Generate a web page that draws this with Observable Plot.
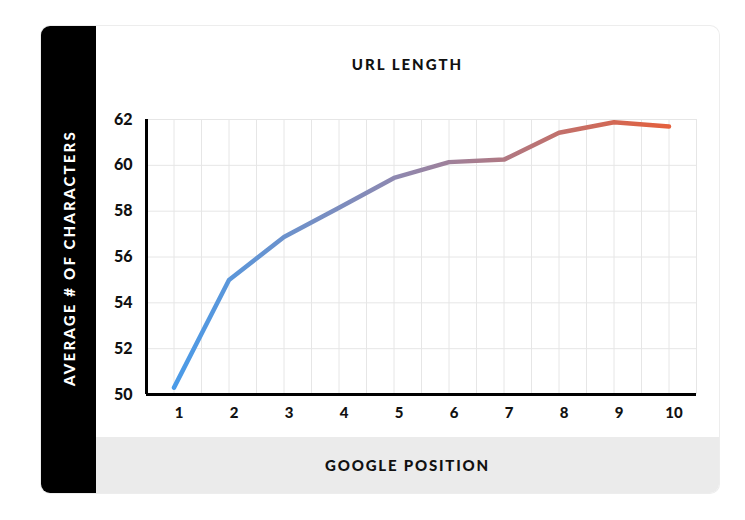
<!DOCTYPE html>
<html>
<head>
<meta charset="utf-8">
<script src="https://cdn.jsdelivr.net/npm/d3@7"></script>
<script src="https://cdn.jsdelivr.net/npm/@observablehq/plot@0.6"></script>
<style>
  html, body { margin: 0; padding: 0; background: #fff; width: 745px; height: 520px; overflow: hidden; }
  #card { position: absolute; left: 41px; top: 26px; width: 678px; height: 467px; border-radius: 9px; overflow: hidden; background: #fff; box-shadow: 0 0 0 1px #ededed; }
  #side { position: absolute; left: 0; top: 0; width: 55px; height: 467px; background: #000; }
  #ylabel { position: absolute; left: 28px; top: 232px; transform: translate(-50%, -50%) rotate(-90deg); white-space: nowrap; color: #fff; font: 900 15px Lato, sans-serif; letter-spacing: 2.2px; }
  #title { position: absolute; left: 55px; width: 623px; top: 29px; text-align: center; font: 900 15px Lato, sans-serif; letter-spacing: 2px; color: #111; }
  #footer { position: absolute; left: 55px; top: 411px; width: 623px; height: 56px; background: #ebebeb; }
  #xlabel { position: absolute; left: 0; width: 623px; top: 19px; text-align: center; font: 900 15px Lato, sans-serif; letter-spacing: 1.8px; color: #111; }
  #chart { position: absolute; left: 55px; top: 64px; }
</style>
</head>
<body>
<div id="card">
  <div id="side"><div id="ylabel">AVERAGE # OF CHARACTERS</div></div>
  <div id="title">URL LENGTH</div>
  <div id="chart"></div>
  <div id="footer"><div id="xlabel">GOOGLE POSITION</div></div>
</div>
<script>
const positions = [1, 2, 3, 4, 5, 6, 7, 8, 9, 10];
const avgChars = [50.3, 55.0, 56.87, 58.15, 59.45, 60.14, 60.25, 61.42, 61.88, 61.69];
const xTicks = [1, 2, 3, 4, 5, 6, 7, 8, 9, 10];
const yTicks = [50, 52, 54, 56, 58, 60, 62];
const xGrid = [1, 1.5, 2, 2.5, 3, 3.5, 4, 4.5, 5, 5.5, 6, 6.5, 7, 7.5, 8, 8.5, 9, 9.5, 10, 10.5];
const yGrid = [52, 54, 56, 58, 60, 62];

const data = positions.map((p, i) => ({position: p, value: avgChars[i]}));

const gradientDefs = () => {
  const ns = "http://www.w3.org/2000/svg";
  const defs = document.createElementNS(ns, "defs");
  const lg = document.createElementNS(ns, "linearGradient");
  lg.setAttribute("id", "lineGrad");
  lg.setAttribute("x1", "0"); lg.setAttribute("x2", "1");
  lg.setAttribute("y1", "0"); lg.setAttribute("y2", "0");
  [["0", "#4a9be8"], ["0.45", "#8e88b0"], ["1", "#e4603d"]].forEach(([o, c]) => {
    const s = document.createElementNS(ns, "stop");
    s.setAttribute("offset", o);
    s.setAttribute("stop-color", c);
    lg.appendChild(s);
  });
  defs.appendChild(lg);
  return defs;
};

const chart = Plot.plot({
  width: 623,
  height: 347,
  marginLeft: 50,
  marginRight: 23,
  marginTop: 29,
  marginBottom: 43,
  style: {fontFamily: "Lato, sans-serif", fontSize: "15px", fontWeight: 900, color: "#111", background: "transparent"},
  x: {domain: [0.5, 10.5]},
  y: {domain: [50, 62]},
  marks: [
    gradientDefs,
    Plot.ruleX(xGrid, {stroke: "#e6e6e6", strokeWidth: 1, y1: 50, y2: 62}),
    Plot.ruleY(yGrid, {stroke: "#e6e6e6", strokeWidth: 1, x1: 0.5, x2: 10.5}),
    Plot.axisX(xTicks, {tickSize: 0, tickPadding: 13, label: null, tickFormat: d => String(d), dx: 5}),
    Plot.axisY(yTicks, {tickSize: 0, tickPadding: 14, label: null, tickFormat: d => String(d), fontSize: 16}),
    Plot.ruleX([0.5], {y1: 50, y2: 62, stroke: "#000", strokeWidth: 3}),
    Plot.ruleY([50], {x1: 0.5, x2: 10.5, stroke: "#000", strokeWidth: 3}),
    Plot.line(data, {x: "position", y: "value", stroke: "url(#lineGrad)", strokeWidth: 4.5, strokeLinejoin: "round", strokeLinecap: "round"})
  ]
});
document.getElementById("chart").appendChild(chart);
</script>
</body>
</html>
